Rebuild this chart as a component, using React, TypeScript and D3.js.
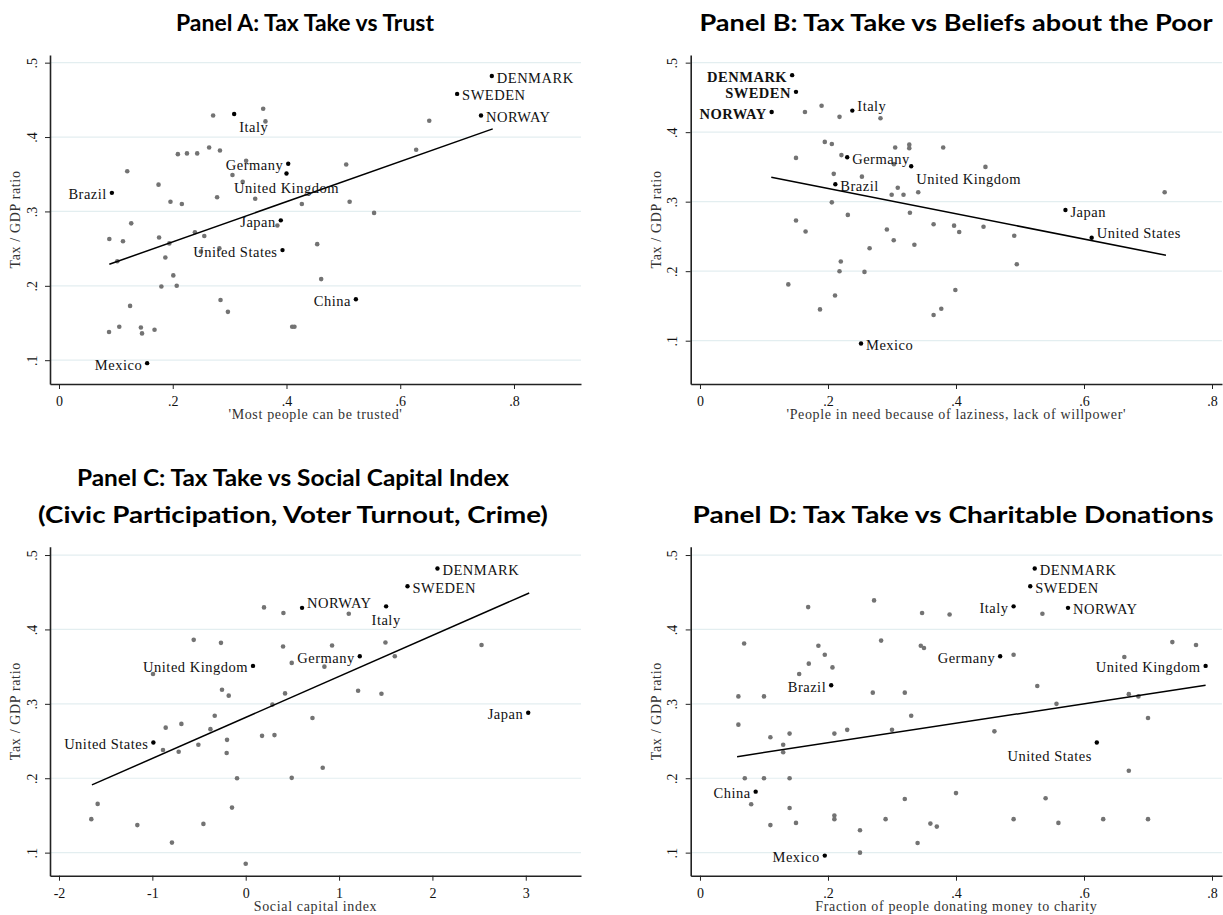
import React, { useRef, useEffect } from 'react';
import * as d3 from 'd3';

// ---- shared ticks ----
const taxTicks = [0.1, 0.2, 0.3, 0.4, 0.5];
const shareTicks = [0, 0.2, 0.4, 0.6, 0.8];
const capitalTicks = [-2, -1, 0, 1, 2, 3];

// ---- Panel A: trust ----
const trustOther = [
  [0.271, 0.429], [0.359, 0.438], [0.363, 0.421], [0.12, 0.354], [0.209, 0.377], [0.225, 0.378],
  [0.243, 0.378], [0.264, 0.386], [0.283, 0.382], [0.329, 0.368], [0.305, 0.349], [0.323, 0.34],
  [0.175, 0.336], [0.196, 0.313], [0.216, 0.31], [0.278, 0.319], [0.345, 0.317], [0.427, 0.31],
  [0.127, 0.284], [0.384, 0.281], [0.651, 0.422], [0.628, 0.383], [0.505, 0.363], [0.511, 0.313],
  [0.554, 0.298], [0.0885, 0.263], [0.1125, 0.26], [0.1025, 0.233], [0.176, 0.265], [0.194, 0.257],
  [0.239, 0.272], [0.2555, 0.267], [0.282, 0.2505], [0.2495, 0.246], [0.187, 0.238], [0.201, 0.214],
  [0.18, 0.199], [0.207, 0.2], [0.125, 0.173], [0.284, 0.181], [0.297, 0.165], [0.088, 0.138],
  [0.106, 0.145], [0.144, 0.144], [0.146, 0.136], [0.168, 0.141], [0.41, 0.145], [0.414, 0.145],
  [0.454, 0.256], [0.461, 0.209],
];
const trustNamed = [
  { name: 'DENMARK', x: 0.761, y: 0.482 }, { name: 'SWEDEN', x: 0.7, y: 0.458 },
  { name: 'NORWAY', x: 0.742, y: 0.429 }, { name: 'Italy', x: 0.308, y: 0.431 },
  { name: 'Germany', x: 0.403, y: 0.364 }, { name: 'United Kingdom', x: 0.4, y: 0.351 },
  { name: 'Brazil', x: 0.093, y: 0.325 }, { name: 'Japan', x: 0.39, y: 0.288 },
  { name: 'United States', x: 0.393, y: 0.248 }, { name: 'China', x: 0.522, y: 0.182 },
  { name: 'Mexico', x: 0.155, y: 0.096 },
];
const trustFit = [[0.0885, 0.229], [0.7626, 0.411]];

// ---- Panel B: laziness ----
const lazyOther = [
  [0.164, 0.429], [0.19, 0.438], [0.218, 0.422], [0.282, 0.42], [0.195, 0.386], [0.206, 0.383],
  [0.15, 0.363], [0.221, 0.367], [0.209, 0.34], [0.253, 0.336], [0.305, 0.378], [0.327, 0.382],
  [0.327, 0.377], [0.303, 0.354], [0.309, 0.32], [0.2995, 0.31], [0.318, 0.31], [0.341, 0.3135],
  [0.206, 0.299], [0.328, 0.284], [0.231, 0.281], [0.15, 0.273], [0.292, 0.26], [0.38, 0.378],
  [0.446, 0.35], [0.726, 0.3135], [0.365, 0.2675], [0.397, 0.2655], [0.443, 0.264], [0.405, 0.2564],
  [0.491, 0.251], [0.335, 0.238], [0.495, 0.21], [0.399, 0.173], [0.377, 0.146], [0.365, 0.137],
  [0.165, 0.257], [0.3027, 0.2445], [0.265, 0.233], [0.22, 0.214], [0.218, 0.2], [0.257, 0.199],
  [0.138, 0.181], [0.211, 0.165], [0.1875, 0.145],
];
const lazyNamed = [
  { name: 'DENMARK', x: 0.144, y: 0.482 }, { name: 'SWEDEN', x: 0.15, y: 0.458 },
  { name: 'NORWAY', x: 0.112, y: 0.429 }, { name: 'Italy', x: 0.238, y: 0.431 },
  { name: 'Germany', x: 0.23, y: 0.364 }, { name: 'United Kingdom', x: 0.33, y: 0.351 },
  { name: 'Brazil', x: 0.2115, y: 0.325 }, { name: 'Japan', x: 0.571, y: 0.288 },
  { name: 'United States', x: 0.612, y: 0.248 }, { name: 'Mexico', x: 0.2516, y: 0.096 },
];
const lazyFit = [[0.1114, 0.335], [0.728, 0.223]];

// ---- Panel C: social capital ----
const capitalOther = [
  [0.196, 0.4296], [0.404, 0.422], [-0.557, 0.386], [-0.265, 0.382], [0.4, 0.377], [0.493, 0.355],
  [-0.993, 0.34], [-0.254, 0.319], [-0.182, 0.311], [0.4215, 0.314], [1.104, 0.421], [0.925, 0.3785],
  [1.497, 0.3825], [2.526, 0.379], [0.843, 0.35], [1.597, 0.364], [1.204, 0.3175], [1.454, 0.3135],
  [0.286, 0.299], [-0.332, 0.284], [-0.689, 0.273], [-0.857, 0.268], [-0.378, 0.266], [-0.2, 0.2516],
  [0.175, 0.257], [0.308, 0.258], [-0.507, 0.245], [-0.886, 0.238], [-0.718, 0.2355], [-0.204, 0.234],
  [-0.093, 0.2], [0.493, 0.2005], [-1.586, 0.1655], [-1.654, 0.145], [-1.161, 0.137], [-0.453, 0.1386],
  [-0.147, 0.1605], [-0.79, 0.1135], [0.0, 0.085], [0.715, 0.281], [0.825, 0.214],
];
const capitalNamed = [
  { name: 'DENMARK', x: 2.054, y: 0.482 }, { name: 'SWEDEN', x: 1.733, y: 0.458 },
  { name: 'NORWAY', x: 0.6035, y: 0.429 }, { name: 'Italy', x: 1.504, y: 0.431 },
  { name: 'Germany', x: 1.222, y: 0.364 }, { name: 'United Kingdom', x: 0.078, y: 0.351 },
  { name: 'United States', x: -0.989, y: 0.248 }, { name: 'Japan', x: 3.026, y: 0.288 },
];
const capitalFit = [[-1.647, 0.191], [3.037, 0.449]];

// ---- Panel D: charity ----
const charityOther = [
  [0.069, 0.381], [0.169, 0.43], [0.272, 0.439], [0.347, 0.422], [0.535, 0.421], [0.283, 0.385],
  [0.345, 0.378], [0.185, 0.378], [0.17, 0.354], [0.155, 0.34], [0.195, 0.366], [0.207, 0.349],
  [0.49, 0.366], [0.527, 0.324], [0.557, 0.3], [0.738, 0.383], [0.775, 0.379], [0.663, 0.363],
  [0.67, 0.313], [0.685, 0.31], [0.7, 0.281], [0.67, 0.21], [0.7, 0.145], [0.63, 0.145],
  [0.56, 0.14], [0.54, 0.173], [0.49, 0.145], [0.46, 0.263], [0.4, 0.18], [0.37, 0.135],
  [0.36, 0.139], [0.34, 0.113], [0.32, 0.172], [0.29, 0.145], [0.25, 0.13], [0.25, 0.1],
  [0.21, 0.15], [0.21, 0.145], [0.14, 0.16], [0.15, 0.14], [0.11, 0.137], [0.08, 0.165],
  [0.07, 0.2], [0.06, 0.272], [0.06, 0.31], [0.1, 0.31], [0.11, 0.255], [0.13, 0.245],
  [0.13, 0.235], [0.14, 0.26], [0.14, 0.2], [0.1, 0.2], [0.21, 0.26], [0.23, 0.265],
  [0.27, 0.315], [0.32, 0.315], [0.33, 0.284], [0.3, 0.265], [0.35, 0.375], [0.39, 0.42],
];
const charityNamed = [
  { name: 'DENMARK', x: 0.523, y: 0.482 }, { name: 'SWEDEN', x: 0.516, y: 0.458 },
  { name: 'Italy', x: 0.49, y: 0.431 }, { name: 'NORWAY', x: 0.575, y: 0.429 },
  { name: 'Germany', x: 0.469, y: 0.364 }, { name: 'United Kingdom', x: 0.79, y: 0.351 },
  { name: 'Brazil', x: 0.205, y: 0.325 }, { name: 'United States', x: 0.62, y: 0.248 },
  { name: 'China', x: 0.087, y: 0.182 }, { name: 'Mexico', x: 0.195, y: 0.096 },
];
const charityFit = [[0.058, 0.229], [0.79, 0.325]];

// label clock positions (like stata mlabvpos)
const posA = { DENMARK: 3, SWEDEN: 3, NORWAY: 3, Italy: 5, Germany: 9, 'United Kingdom': 6, Brazil: 9, Japan: 9, 'United States': 9, China: 9, Mexico: 9 };
const posB = { DENMARK: 9, SWEDEN: 9, NORWAY: 9, Italy: 2, Germany: 3, 'United Kingdom': 5, Brazil: 3, Japan: 3, 'United States': 2, Mexico: 3 };
const posC = { DENMARK: 3, SWEDEN: 3, NORWAY: 2, Italy: 6, Germany: 9, 'United Kingdom': 9, 'United States': 9, Japan: 9 };
const posD = { DENMARK: 3, SWEDEN: 3, Italy: 9, NORWAY: 3, Germany: 9, 'United Kingdom': 9, Brazil: 9, 'United States': 7, China: 9, Mexico: 9 };

const serif = '"Liberation Serif", "Times New Roman", serif';

function offset(clock) {
  switch (clock) {
    case 2: return { dx: 5, dy: -5, anchor: 'start' };
    case 3: return { dx: 5, dy: 1.5, anchor: 'start' };
    case 5: return { dx: 5, dy: 13, anchor: 'start' };
    case 6: return { dx: 0, dy: 14, anchor: 'middle' };
    case 7: return { dx: -5, dy: 13, anchor: 'end' };
    default: return { dx: -5, dy: 1.5, anchor: 'end' };
  }
}

const fmtShare = d => (d === 0 ? '0' : String(d).replace('0.', '.'));

const panels = [
  {
    title: ['Panel A: Tax Take vs Trust'], titleW: [258], titleX: 305, titleY: 31,
    xDomain: [-0.0158, 0.9178], xRange: [50, 581], yDomain: [0.068, 0.5103], yRange: [384, 55],
    xTicks: shareTicks, xTitle: "'Most people can be trusted'",
    other: trustOther, named: trustNamed, fit: trustFit, pos: posA, bold: false,
  },
  {
    title: ['Panel B: Tax Take vs Beliefs about the Poor'], titleW: [513], titleX: 956, titleY: 31,
    xDomain: [-0.0145, 0.8156], xRange: [690.7, 1222], yDomain: [0.0377, 0.511], yRange: [384, 55],
    xTicks: shareTicks, xTitle: "'People in need because of laziness, lack of willpower'",
    other: lazyOther, named: lazyNamed, fit: lazyFit, pos: posB, bold: true,
  },
  {
    title: ['Panel C: Tax Take vs Social Capital Index', '(Civic Participation, Voter Turnout, Crime)'],
    titleW: [432, 510], titleX: 293, titleY: 486,
    xDomain: [-2.0964, 3.5916], xRange: [50, 581], yDomain: [0.069, 0.5112], yRange: [875.7, 546.7],
    xTicks: capitalTicks, xTitle: 'Social capital index',
    other: capitalOther, named: capitalNamed, fit: capitalFit, pos: posC, bold: false,
  },
  {
    title: ['Panel D: Tax Take vs Charitable Donations'], titleW: [521], titleX: 953, titleY: 523,
    xDomain: [-0.0145, 0.8156], xRange: [690.7, 1222], yDomain: [0.069, 0.5112], yRange: [875.7, 546.7],
    xTicks: shareTicks, xTitle: 'Fraction of people donating money to charity',
    other: charityOther, named: charityNamed, fit: charityFit, pos: posD, bold: false,
  },
];

export default function App() {
  const ref = useRef(null);

  useEffect(() => {
    const svg = d3.select(ref.current);
    svg.selectAll('*').remove();
    svg.append('rect').attr('width', 1223).attr('height', 915).attr('fill', '#fff');

    panels.forEach(p => {
      const g = svg.append('g');
      const x = d3.scaleLinear().domain(p.xDomain).range(p.xRange);
      const y = d3.scaleLinear().domain(p.yDomain).range(p.yRange);
      const left = p.xRange[0];
      const bottom = p.yRange[0];

      // title (stretched to the width it has in the original)
      p.title.forEach((t, i) => {
        g.append('text')
          .attr('x', p.titleX)
          .attr('y', p.titleY + i * 37)
          .attr('text-anchor', 'middle')
          .attr('font-family', 'Lato, "Open Sans", sans-serif')
          .attr('font-weight', 'bold')
          .attr('font-size', 22)
          .attr('textLength', p.titleW[i])
          .attr('lengthAdjust', 'spacingAndGlyphs')
          .attr('fill', '#000')
          .text(t);
      });

      // grid
      g.selectAll('line.grid')
        .data(taxTicks)
        .join('line')
        .attr('class', 'grid')
        .attr('x1', left)
        .attr('x2', p.xRange[1])
        .attr('y1', d => y(d))
        .attr('y2', d => y(d))
        .attr('stroke', '#e3eef0')
        .attr('stroke-width', 1.2);

      // y axis
      const yAxis = g
        .append('g')
        .attr('transform', `translate(${left},0)`)
        .call(d3.axisLeft(y).tickValues(taxTicks).tickSize(5).tickSizeOuter(0).tickFormat(fmtShare));
      yAxis.select('.domain').attr('stroke', '#222').attr('stroke-width', 1.6);
      yAxis.selectAll('.tick line').attr('stroke', '#222');
      yAxis
        .selectAll('.tick text')
        .attr('transform', 'rotate(-90)')
        .attr('x', 0)
        .attr('y', -18.3)
        .attr('dy', '0.35em')
        .attr('text-anchor', 'middle')
        .attr('font-family', serif)
        .attr('font-size', 14)
        .attr('fill', '#111');

      // x axis
      const xAxis = g
        .append('g')
        .attr('transform', `translate(0,${bottom})`)
        .call(d3.axisBottom(x).tickValues(p.xTicks).tickSize(5).tickSizeOuter(0).tickFormat(fmtShare));
      xAxis.select('.domain').attr('stroke', '#222').attr('stroke-width', 1.6);
      xAxis.selectAll('.tick line').attr('stroke', '#222');
      xAxis
        .selectAll('.tick text')
        .attr('y', 12.4)
        .attr('dy', '0.71em')
        .attr('font-family', serif)
        .attr('font-size', 14)
        .attr('fill', '#111');

      // axis titles
      g.append('text')
        .attr('x', (left + p.xRange[1]) / 2)
        .attr('y', bottom + 35)
        .attr('text-anchor', 'middle')
        .attr('font-family', serif)
        .attr('font-size', 14)
        .attr('letter-spacing', 0.65)
        .attr('fill', '#333')
        .text(p.xTitle);
      g.append('text')
        .attr('transform', `translate(${left - 35},${(p.yRange[0] + p.yRange[1]) / 2}) rotate(-90)`)
        .attr('dy', '0.35em')
        .attr('text-anchor', 'middle')
        .attr('font-family', serif)
        .attr('font-size', 14)
        .attr('letter-spacing', 0.65)
        .attr('fill', '#333')
        .text('Tax / GDP ratio');

      // other countries
      g.selectAll('circle.other')
        .data(p.other)
        .join('circle')
        .attr('class', 'other')
        .attr('cx', d => x(d[0]))
        .attr('cy', d => y(d[1]))
        .attr('r', 2.3)
        .attr('fill', '#737373');

      // fitted line
      g.append('path')
        .datum(p.fit)
        .attr('d', d3.line().x(d => x(d[0])).y(d => y(d[1])))
        .attr('stroke', '#000')
        .attr('stroke-width', 1.5)
        .attr('fill', 'none');

      // named countries
      g.selectAll('circle.named')
        .data(p.named)
        .join('circle')
        .attr('class', 'named')
        .attr('cx', d => x(d.x))
        .attr('cy', d => y(d.y))
        .attr('r', 2.2)
        .attr('fill', '#000');
      g.selectAll('text.lbl')
        .data(p.named)
        .join('text')
        .attr('class', 'lbl')
        .each(function (d) {
          const o = offset(p.pos[d.name]);
          const caps = d.name === d.name.toUpperCase();
          d3.select(this)
            .attr('x', x(d.x) + o.dx)
            .attr('y', y(d.y) + o.dy)
            .attr('dy', '0.35em')
            .attr('text-anchor', o.anchor)
            .attr('font-weight', p.bold && caps ? 'bold' : 'normal');
        })
        .attr('font-family', serif)
        .attr('font-size', 14.5)
        .attr('letter-spacing', 0.5)
        .attr('fill', '#111')
        .text(d => d.name);
    });
  }, []);

  return (
    <svg
      ref={ref}
      width={1223}
      height={915}
      style={{ position: 'absolute', left: 0, top: 0, display: 'block' }}
    />
  );
}
